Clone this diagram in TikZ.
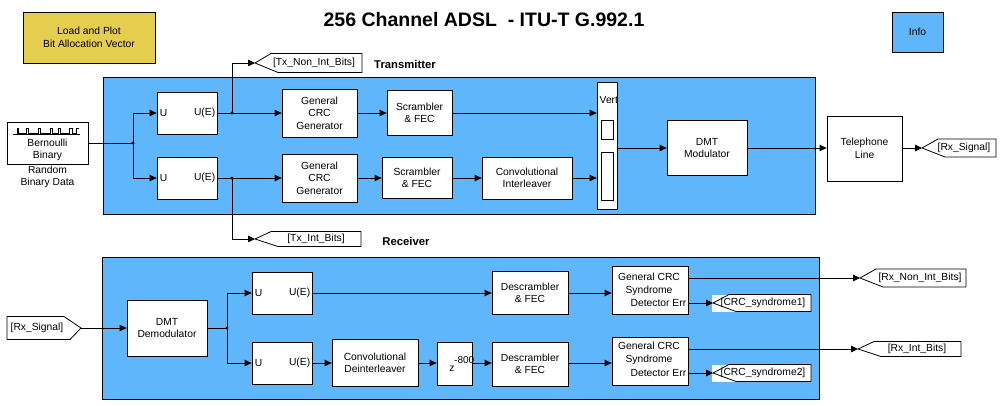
\documentclass[tikz,border=0pt]{standalone}
\usepackage{fontspec}
\setmainfont{Liberation Sans}
\usetikzlibrary{arrows.meta,calc}
\definecolor{panelblue}{RGB}{96,182,250}
\definecolor{loadyellow}{RGB}{229,206,78}
\newcommand{\fs}{\fontsize{10.3}{12.6}\selectfont}
\tikzset{
  blk/.style={draw, fill=white, line width=0.8pt, inner sep=0pt, align=center, font=\fs},
  box/.style 2 args={blk, minimum width=#1pt, minimum height=#2pt},
  panel/.style={draw, fill=panelblue, line width=0.9pt},
  arr/.style={-{Triangle[length=7pt,width=6.5pt]}, line width=0.9pt},
  wire/.style={line width=0.9pt},
  tagline/.style={draw, fill=white, line width=0.8pt},
  tagtext/.style={font=\fs, inner sep=0pt},
  lbl/.style={font=\fs, inner sep=0pt, align=center},
  dot/.style={fill=black},
}
% name, tip x, y, right x, half height, text centre x, text
\newcommand{\mktag}[7]{%
  \coordinate (#1tip) at (#2,#3);
  \draw[tagline] (#2,#3) -- ({#2+16},{#3-#5}) -- (#4,{#3-#5}) -- (#4,{#3+#5}) -- ({#2+23},{#3+#5}) -- cycle;
  \node[tagtext] (#1) at (#6,#3) {#7};
}
\begin{document}
\begin{tikzpicture}[x=1pt,y=-1pt]
\useasboundingbox (0,0) rectangle (1000,406);
% title
\node[font=\fontsize{19.5}{22}\selectfont\bfseries, inner sep=0pt] (title) at (484,20) {256 Channel ADSL\ \ - ITU-T G.992.1};
% top boxes
\node[box={132}{51}, fill=loadyellow] (load) at (89,37.5) {Load and Plot\\Bit Allocation Vector};
\node[box={51}{40}, fill=panelblue] (info) at (917.5,32) {Info};
% panels
\draw[panel] (103,77) rectangle (815,214);
\draw[panel] (102,257) rectangle (819,399);
\node[font=\fontsize{11.3}{13}\selectfont\bfseries, inner sep=0pt] (txlbl) at (405,64) {Transmitter};
\node[font=\fontsize{11.3}{13}\selectfont\bfseries, inner sep=0pt] (rxlbl) at (406,241) {Receiver};
% Bernoulli source
\node[box={81}{42}] (bern) at (47.5,143) {};
\draw[line width=0.9pt] (13,134.5) -- (80,134.5);
\draw[line width=0.7pt] (17,134) -- (17,128) -- (18,128) -- (18,133) -- (26,133) -- (26,128) -- (28,128) -- (28,133) -- (38,133) -- (38,128) -- (40,128) -- (40,133) -- (50,133) -- (50,128) -- (52,128) -- (52,133) -- (58,133) -- (58,128) -- (60,128) -- (60,133) -- (69,133) -- (69,128) -- (72,128) -- (72,133) -- (76,133) -- (76,128) -- (79,128);
\node[lbl] (berntxt) at (47.5,150) {Bernoulli\\Binary};
\node[lbl] (berncap) at (47.5,177) {Random\\Binary Data};
% transmitter blocks
\node[box={60}{42}] (u1) at (187,113) {};
\node[box={60}{42}] (u2) at (187,178) {};
\foreach \u in {u1,u2} {
  \node[lbl, anchor=west] at ([xshift=3pt]\u.west) {U};
  \node[lbl, anchor=east] at ([xshift=-2pt]\u.east) {U(E)};
}
\node[box={75}{48}] (crc1) at (319.5,113) {General\\CRC\\Generator};
\node[box={75}{48}] (crc2) at (319.5,178) {General\\CRC\\Generator};
\node[box={65}{45}] (scr1) at (419.5,113) {Scrambler\\\& FEC};
\node[box={70}{41}] (scr2) at (417,178) {Scrambler\\\& FEC};
\node[box={90}{42}] (cint) at (527,178) {Convolutional\\Interleaver};
\node[box={20}{127}] (vert) at (607,145.5) {};
\begin{scope}
  \clip (vert.south west) rectangle (vert.north east);
  \node[lbl, anchor=west] (verttxt) at (599.5,100) {Vert};
\end{scope}
\draw[line width=0.8pt] (601,120) rectangle (613,139);
\draw[line width=0.8pt] (601,152) rectangle (613,200);
\node[box={80}{55}] (dmtm) at (707,148) {DMT\\Modulator};
\node[box={75}{65}] (tel) at (864.5,148.5) {Telephone\\Line};
% transmitter tags
\mktag{txn}{255}{63}{362}{9.5}{314}{[Tx\_Non\_Int\_Bits]}
\mktag{txi}{255}{239}{361}{7.5}{316}{[Tx\_Int\_Bits]}
\mktag{rxs}{922}{148}{996}{9}{964}{[Rx\_Signal]}
% transmitter wiring
\coordinate (J1) at (133,143);
\coordinate (J2) at (232,113);
\coordinate (J3) at (232,178);
\draw[wire] (bern.east) -- (J1);
\draw[arr] (J1) |- (u1.west);
\draw[arr] (J1) |- (u2.west);
\draw[arr] (u1.east) -- (crc1.west);
\draw[arr] (u2.east) -- (crc2.west);
\draw[arr] (J2) |- (txntip);
\draw[arr] (J3) |- (txitip);
\draw[arr] (crc1.east) -- (scr1.west);
\draw[arr] (crc2.east) -- (scr2.west);
\draw[arr] (scr1.east) -- (scr1.east -| vert.west);
\draw[arr] (scr2.east) -- (cint.west);
\draw[arr] (cint.east) -- (cint.east -| vert.west);
\draw[arr] (vert.east |- dmtm.west) -- (dmtm.west);
\draw[arr] (dmtm.east) -- (dmtm.east -| tel.west);
\draw[arr] (tel.east |- rxstip) -- (rxstip);
\foreach \j in {J1,J2,J3} \fill[dot] (\j) circle (1.7);
% receiver blocks
\draw[tagline] (7,316.5) -- (64,316.5) -- (81,328) -- (70,339.5) -- (7,339.5) -- cycle;
\coordinate (rxftip) at (81,328);
\node[tagtext] (rxf) at (37,328) {[Rx\_Signal]};
\node[box={80}{56}] (dmtd) at (167,328) {DMT\\Demodulator};
\node[box={60}{42}] (u3) at (282,293) {};
\node[box={60}{42}] (u4) at (282,363) {};
\foreach \u in {u3,u4} {
  \node[lbl, anchor=west] at ([xshift=3pt]\u.west) {U};
  \node[lbl, anchor=east] at ([xshift=-2pt]\u.east) {U(E)};
}
\node[box={86}{47}] (cdi) at (375,363) {Convolutional\\Deinterleaver};
\node[box={35}{43}] (zd) at (454.5,363.5) {};
\node[lbl] (zz) at (452,369) {z};
\node[lbl, anchor=west, font=\fontsize{10}{11}\selectfont] (zexp) at (454,360) {-800};
\node[box={76}{43}] (ds1) at (530,293) {Descrambler\\\& FEC};
\node[box={76}{44}] (ds2) at (530,364) {Descrambler\\\& FEC};
\node[box={76}{48}] (cs1) at (650,290) {};
\node[box={76}{48}] (cs2) at (650,361) {};
\node[lbl] (cs1t) at (649,284) {General CRC\\[0.5pt]Syndrome};
\node[lbl] (cs2t) at (649,353) {General CRC\\[0.5pt]Syndrome};
% receiver tags
\fill[white] (712,294.5) rectangle (811,311.5);
\mktag{csa}{713}{303}{811}{8.5}{763}{[CRC\_syndrome1]}
\fill[white] (712,364.5) rectangle (811,381.5);
\mktag{csb}{713}{373}{811}{8.5}{763}{[CRC\_syndrome2]}
\mktag{rxn}{860}{278}{966}{9}{920}{[Rx\_Non\_Int\_Bits]}
\mktag{rxi}{858}{349}{961}{7.5}{917}{[Rx\_Int\_Bits]}
\node[lbl, anchor=east] (cs1e) at ([xshift=-2pt]cs1.east |- csatip) {Detector Err};
\node[lbl, anchor=east] (cs2e) at ([xshift=-2pt]cs2.east |- csbtip) {Detector Err};
% receiver wiring
\coordinate (J4) at (227,328);
\draw[arr] (rxftip) -- (dmtd.west);
\draw[wire] (dmtd.east) -- (J4);
\draw[arr] (J4) |- (u3.west);
\draw[arr] (J4) |- (u4.west);
\draw[arr] (u3.east) -- (ds1.west);
\draw[arr] (u4.east) -- (cdi.west);
\draw[arr] (cdi.east) -- (cdi.east -| zd.west);
\draw[arr] (zd.east |- cdi.east) -- (cdi.east -| ds2.west);
\draw[arr] (ds1.east) -- (ds1.east -| cs1.west);
\draw[arr] (ds2.east |- cdi.east) -- (cdi.east -| cs2.west);
\draw[arr] (cs1.east |- rxntip) -- (rxntip);
\draw[arr] (cs1.east |- csatip) -- (csatip);
\draw[arr] (cs2.east |- rxitip) -- (rxitip);
\draw[arr] (cs2.east |- csbtip) -- (csbtip);
\fill[dot] (J4) circle (1.7);
\end{tikzpicture}
\end{document}
